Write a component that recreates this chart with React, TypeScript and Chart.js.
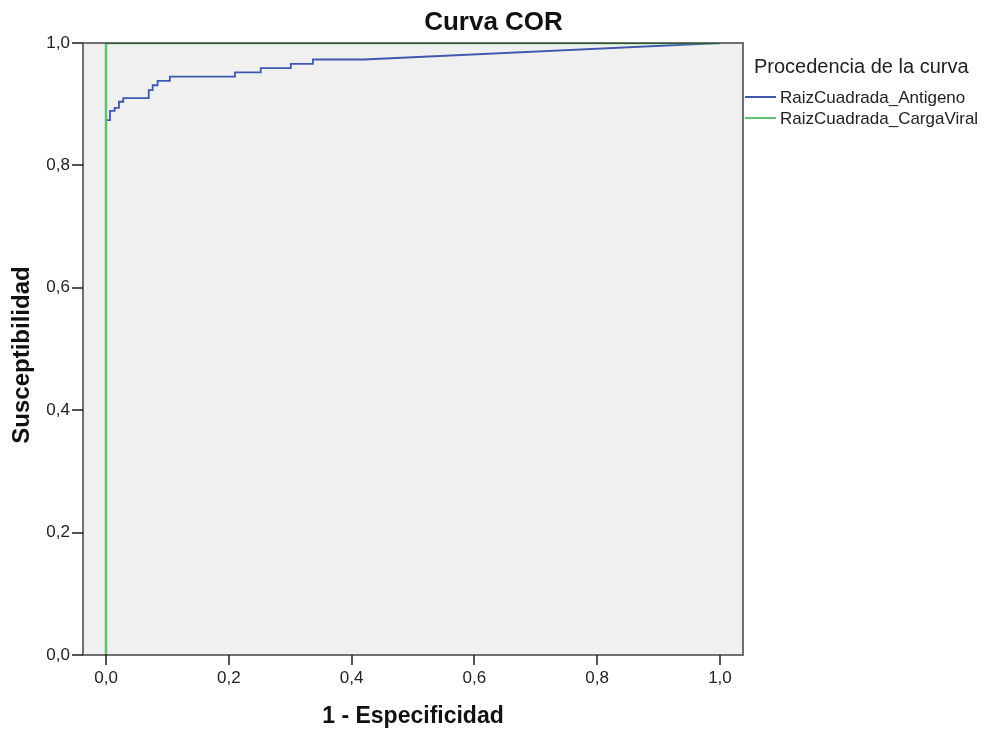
import React, { useEffect, useRef } from "react";
import { Chart, registerables } from "chart.js";

Chart.register(...registerables);

const chartTitle = "Curva COR";
const xAxisTitle = "1 - Especificidad";
const yAxisTitle = "Susceptibilidad";
const legendTitle = "Procedencia de la curva";
const seriesNames = ["RaizCuadrada_Antigeno", "RaizCuadrada_CargaViral"];
const seriesColors = ["#3e58ac", "#5cc56e"];

const tickValues = [0, 0.2, 0.4, 0.6, 0.8, 1.0];

// ROC vertices (1 - especificidad, susceptibilidad)
const fprAntigeno = [0, 0, 0.0065, 0.0065, 0.014, 0.014, 0.021, 0.021, 0.028, 0.028, 0.0696, 0.0696, 0.076, 0.076, 0.084, 0.084, 0.104, 0.104, 0.21, 0.21, 0.252, 0.252, 0.301, 0.301, 0.337, 0.337, 0.42, 1];
const tprAntigeno = [0, 0.874, 0.874, 0.889, 0.889, 0.894, 0.894, 0.904, 0.904, 0.91, 0.91, 0.923, 0.923, 0.931, 0.931, 0.938, 0.938, 0.945, 0.945, 0.952, 0.952, 0.959, 0.959, 0.966, 0.966, 0.973, 0.973, 1];
const fprCargaViral = [0, 0, 1];
const tprCargaViral = [0, 1, 1];

const FONT = '"Liberation Sans", Arial, sans-serif';
const fmt = (v: number) => v.toFixed(1).replace(".", ",");

const decorPlugin = {
  id: "decor",
  beforeDraw(chart: any) {
    const { ctx, chartArea: a } = chart;
    ctx.save();
    ctx.fillStyle = "#f0f0f0";
    ctx.fillRect(a.left, a.top, a.right - a.left, a.bottom - a.top);
    ctx.restore();
  },
  afterDatasetsDraw(chart: any) {
    const { ctx, chartArea: a } = chart;
    ctx.save();
    ctx.strokeStyle = "rgba(20,20,20,0.6)";
    ctx.lineWidth = 2;
    ctx.strokeRect(a.left, a.top, a.right - a.left, a.bottom - a.top);
    ctx.restore();
  },
  afterDraw(chart: any) {
    const { ctx, chartArea: a } = chart;
    ctx.save();
    ctx.fillStyle = "#111";
    ctx.textAlign = "center";
    ctx.textBaseline = "alphabetic";
    ctx.font = `bold 26px ${FONT}`;
    ctx.fillText(chartTitle, chart.width / 2, 30);
    ctx.font = `bold 23px ${FONT}`;
    ctx.fillText(xAxisTitle, (a.left + a.right) / 2, 723);
    ctx.save();
    ctx.translate(29, 355);
    ctx.rotate(-Math.PI / 2);
    ctx.font = `bold 24px ${FONT}`;
    ctx.fillText(yAxisTitle, 0, 0);
    ctx.restore();

    // legend
    ctx.textAlign = "left";
    ctx.fillStyle = "#222";
    ctx.font = `20px ${FONT}`;
    ctx.fillText(legendTitle, 754, 73);
    ctx.font = `17px ${FONT}`;
    ctx.textBaseline = "middle";
    const ys = [97, 118];
    seriesNames.forEach((name, i) => {
      ctx.strokeStyle = seriesColors[i];
      ctx.lineWidth = 2;
      ctx.beginPath();
      ctx.moveTo(745, ys[i]);
      ctx.lineTo(776, ys[i]);
      ctx.stroke();
      ctx.fillStyle = "#222";
      ctx.fillText(name, 780, ys[i] + 1);
    });
    ctx.restore();
  },
};

export default function App() {
  const ref = useRef<HTMLCanvasElement | null>(null);
  useEffect(() => {
    if (!ref.current) return;
    const chart = new Chart(ref.current, {
      type: "line",
      data: {
        datasets: [
          {
            label: seriesNames[0],
            data: fprAntigeno.map((x, i) => ({ x, y: tprAntigeno[i] })),
            borderColor: seriesColors[0],
            borderWidth: 1.8,
            pointRadius: 0,
            tension: 0,
            fill: false,
            order: 1,
          },
          {
            label: seriesNames[1],
            data: fprCargaViral.map((x, i) => ({ x, y: tprCargaViral[i] })),
            borderColor: seriesColors[1],
            borderWidth: 2.5,
            pointRadius: 0,
            tension: 0,
            fill: false,
            order: 0,
          },
        ],
      },
      options: {
        responsive: false,
        animation: false,
        layout: { padding: { top: 43, right: 244, left: 0, bottom: 0 } },
        plugins: { legend: { display: false }, title: { display: false }, tooltip: { enabled: false } },
        scales: {
          x: {
            type: "linear",
            min: -0.0375,
            max: 1.0375,
            afterBuildTicks: (s: any) => {
              s.ticks = tickValues.map((v) => ({ value: v }));
            },
            afterFit: (s: any) => {
              s.height = 77;
            },
            ticks: {
              callback: (v: any) => fmt(Number(v)),
              font: { family: FONT, size: 17 },
              color: "#222",
              padding: 3,
              maxRotation: 0,
              autoSkip: false,
            },
            grid: { display: true, drawOnChartArea: false, drawTicks: true, tickLength: 10, color: "#555", lineWidth: 2 },
            border: { display: false },
          },
          y: {
            type: "linear",
            min: 0,
            max: 1,
            afterBuildTicks: (s: any) => {
              s.ticks = tickValues.map((v) => ({ value: v }));
            },
            afterFit: (s: any) => {
              s.width = 83;
            },
            ticks: {
              callback: (v: any) => fmt(Number(v)),
              font: { family: FONT, size: 17 },
              color: "#222",
              padding: 2,
              autoSkip: false,
            },
            grid: { display: true, drawOnChartArea: false, drawTicks: true, tickLength: 11, color: "#555", lineWidth: 2 },
            border: { display: false },
          },
        },
      },
      plugins: [decorPlugin],
    });
    return () => chart.destroy();
  }, []);
  return (
    <div style={{ position: "absolute", left: 0, top: 0, width: 987, height: 732, background: "#fff" }}>
      <canvas ref={ref} width={987} height={732} style={{ width: 987, height: 732, display: "block" }} />
    </div>
  );
}
